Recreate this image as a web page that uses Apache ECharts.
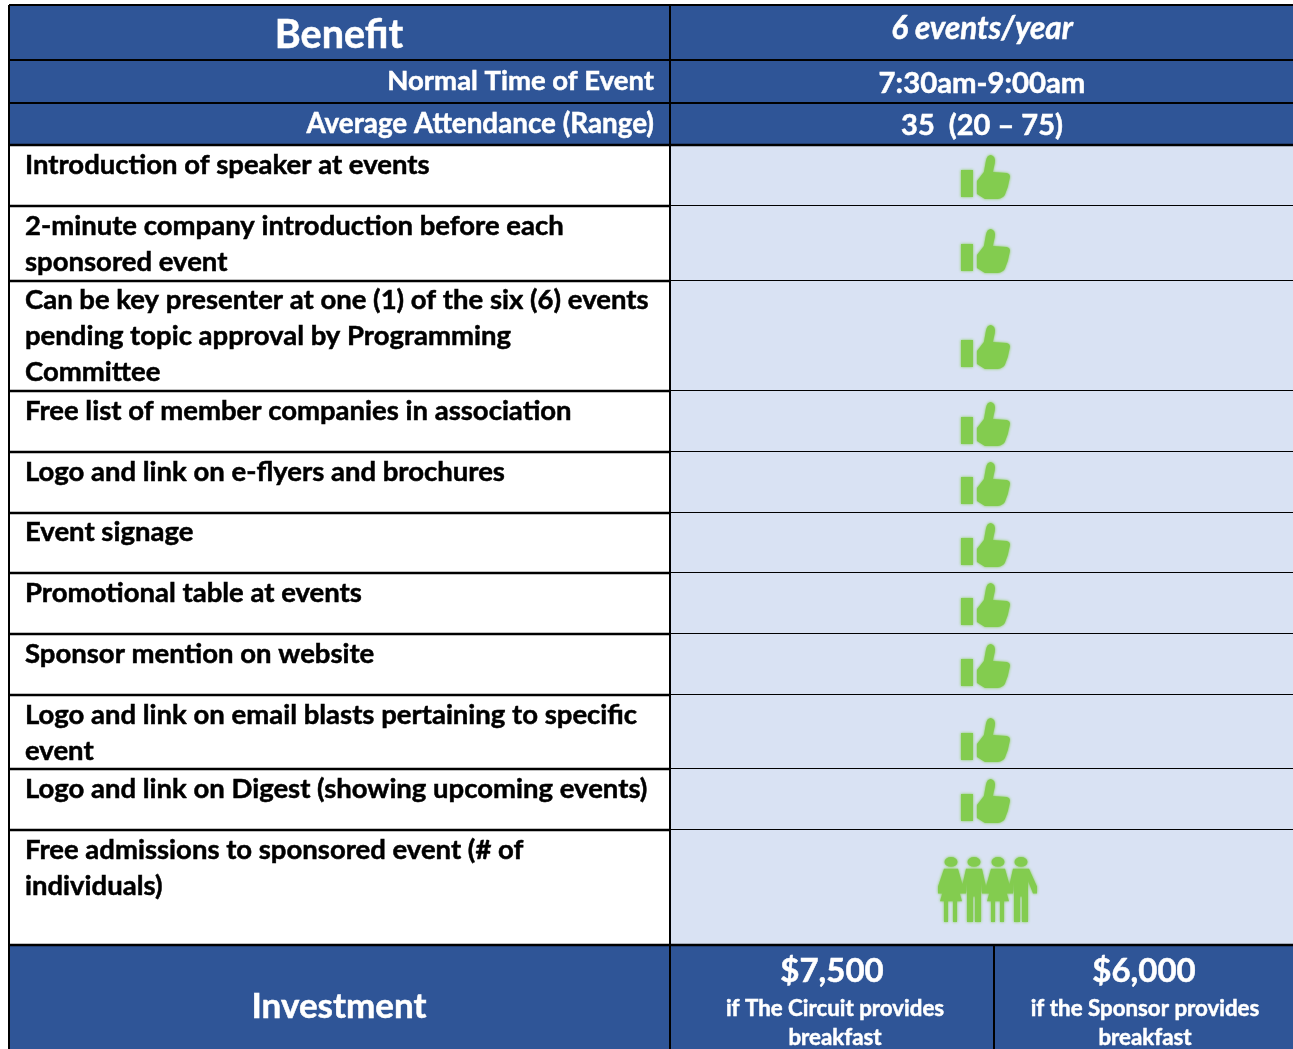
<!DOCTYPE html>
<html>
<head>
<meta charset="utf-8">
<style>
html, body { margin: 0; padding: 0; background: #fff; }
#main { width: 1293px; height: 1049px; }
</style>
<script src="https://cdn.jsdelivr.net/npm/echarts@6/dist/echarts.min.js"></script>
</head>
<body>
<div id="main"></div>
<script>
// table content
var headTitle = "Benefit";
var headFrequency = "6 events/year";
var headLabels = ["Normal Time of Event", "Average Attendance (Range)"];
var headValues = ["7:30am-9:00am", "35  (20 \u2013 75)"];
var benefits = [
	"Introduction of speaker at events",
	"2-minute company introduction before each\nsponsored event",
	"Can be key presenter at one (1) of the six (6) events\npending topic approval by Programming\nCommittee",
	"Free list of member companies in association",
	"Logo and link on e-flyers and brochures",
	"Event signage",
	"Promotional table at events",
	"Sponsor mention on website",
	"Logo and link on email blasts pertaining to specific\nevent",
	"Logo and link on Digest (showing upcoming events)",
	"Free admissions to sponsored event (# of\nindividuals)"
];
var benefitMarks = ["thumb", "thumb", "thumb", "thumb", "thumb", "thumb", "thumb", "thumb", "thumb", "thumb", "people"];
var investmentTitle = "Investment";
var investmentPrices = ["$7,500", "$6,000"];
var investmentNotes = ["if The Circuit provides\nbreakfast", "if the Sponsor provides\nbreakfast"];

// layout, in table pixels
var rowEdges = [5, 60, 103, 145, 206, 281, 391, 452, 513, 573, 634, 695, 769, 830, 945, 1049];
var benefitTops = [147, 208, 282, 393, 454, 514, 575, 636, 697, 771, 832];
var markCentres = [178, 252, 348, 425, 485, 546, 606, 667, 741, 802, 889];
var tableLeft = 9, columnEdge = 670, priceEdge = 994, tableRight = 1293;

var BLUE = "#2F5597", PALE = "#D9E2F3", GREEN = "#83CC4F", LINE = "#000";
var FONT = "Lato, Carlito, sans-serif";

var thumbPath = "M21 25L33 25L33 52L21 52ZM37 36L44 27L46 16Q47 10 51 10Q56 11 55 18L53 27L67 28Q71 29 70 33L68 42L65 50Q63 53 58 54L45 54L37 49Z";

function pts(cx, list) {
	var d = "";
	for (var i = 0; i < list.length; i++) {
		d += (i === 0 ? "M" : "L") + (cx + list[i][0]) + " " + list[i][1];
	}
	return d + "Z";
}

// one figure of the four, cx is the middle of the body
function personPath(cx, woman, reachL, reachR) {
	var d = "M" + (cx - 6.5) + " 5a6.5 5 0 1 0 13 0a6.5 5 0 1 0 -13 0Z";
	if (woman) {
		d += pts(cx, [[-7, 12], [7, 12], [reachR, 30], [reachR, 37], [reachR - 4, 37], [6, 27], [11, 45], [-11, 45], [-6, 27], [-reachL + 4, 37], [-reachL, 37], [-reachL, 30]]);
		d += pts(cx, [[-7, 45], [-3, 45], [-3, 66], [-7, 66]]);
		d += pts(cx, [[2, 45], [6, 45], [6, 66], [2, 66]]);
	} else {
		d += pts(cx, [[-8, 12], [8, 12], [reachR, 30], [reachR, 37], [reachR - 4, 37], [7, 24], [7, 66], [1, 66], [1, 40], [-1, 40], [-1, 66], [-7, 66], [-7, 24], [-reachL + 4, 37], [-reachL, 37], [-reachL, 30]]);
	}
	return d;
}
var peoplePath = personPath(13, true, 13, 12) + personPath(36, false, 12, 12) + personPath(60, true, 12, 12) + personPath(83, false, 12, 16);

function rect(api, x1, y1, x2, y2, fill) {
	var a = api.coord([x1, y1]);
	var b = api.coord([x2, y2]);
	return { type: "rect", shape: { x: a[0], y: a[1], width: b[0] - a[0], height: b[1] - a[1] }, style: { fill: fill } };
}

function hLine(api, x1, x2, y, width) {
	var a = api.coord([x1, y]);
	var b = api.coord([x2, y]);
	return { type: "line", shape: { x1: a[0], y1: a[1], x2: b[0], y2: b[1] }, style: { stroke: LINE, lineWidth: width } };
}

function vLine(api, x, y1, y2, width) {
	var a = api.coord([x, y1]);
	var b = api.coord([x, y2]);
	return { type: "line", shape: { x1: a[0], y1: a[1], x2: b[0], y2: b[1] }, style: { stroke: LINE, lineWidth: width } };
}

function label(api, text, x, y, size, fill, align, opts) {
	var p = api.coord([x, y]);
	opts = opts || {};
	return {
		type: "text",
		x: p[0],
		y: p[1],
		style: {
			text: text,
			fill: fill,
			stroke: fill,
			lineWidth: 0.5,
			align: align,
			verticalAlign: opts.top ? "top" : "middle",
			lineHeight: opts.lineHeight,
			font: (opts.italic ? "italic " : "") + "bold " + size + "px " + FONT
		}
	};
}

function mark(api, kind, cy) {
	var box = kind === "thumb" ? [961, cy - 23, 49, 44] : [938, cy - 32, 99, 65];
	var a = api.coord([box[0], box[1]]);
	return {
		type: "path",
		shape: {
			pathData: kind === "thumb" ? thumbPath : peoplePath,
			layout: "cover",
			x: a[0],
			y: a[1],
			width: box[2],
			height: box[3]
		},
		style: { fill: GREEN, shadowColor: GREEN, shadowBlur: 3 }
	};
}

function drawBackground(params, api) {
	var last = rowEdges.length - 1;
	return {
		type: "group",
		children: [
			rect(api, tableLeft, rowEdges[0], tableRight, rowEdges[3], BLUE),
			rect(api, tableLeft, rowEdges[3], columnEdge, rowEdges[last - 1], "#fff"),
			rect(api, columnEdge, rowEdges[3], tableRight, rowEdges[last - 1], PALE),
			rect(api, tableLeft, rowEdges[last - 1], tableRight, rowEdges[last], BLUE)
		]
	};
}

function drawGrid(params, api) {
	var children = [];
	var last = rowEdges.length - 1;
	for (var i = 0; i < last; i++) {
		if (i > 3 && i < last - 1) {
			// rows in the body: the rule gets thinner over the pale column
			children.push(hLine(api, tableLeft, columnEdge, rowEdges[i], 2.5));
			children.push(hLine(api, columnEdge, tableRight, rowEdges[i] - 0.5, 1.2));
		} else {
			children.push(hLine(api, tableLeft, tableRight, rowEdges[i], (i === 3 || i === last - 1) ? 2.5 : 2));
		}
	}
	children.push(vLine(api, tableLeft, rowEdges[0], rowEdges[last], 2));
	children.push(vLine(api, columnEdge, rowEdges[0], rowEdges[last], 2));
	children.push(vLine(api, priceEdge, rowEdges[last - 1], rowEdges[last], 2));
	return { type: "group", children: children };
}

function drawHeader(params, api) {
	return {
		type: "group",
		children: [
			label(api, headTitle, 339, 35, 39.5, "#fff", "center"),
			label(api, headFrequency, 982, 29, 31.5, "#fff", "center", { italic: true }),
			label(api, headLabels[0], 654, 81, 27.5, "#fff", "right"),
			label(api, headValues[0], 982, 84, 29.3, "#fff", "center"),
			label(api, headLabels[1], 654, 124, 27.8, "#fff", "right"),
			label(api, headValues[1], 982, 126, 29, "#fff", "center")
		]
	};
}

function drawBenefit(params, api) {
	var i = api.value(0);
	return {
		type: "group",
		children: [
			label(api, benefits[i], 25, benefitTops[i], 27.5, "#000", "left", { top: true, lineHeight: 36 }),
			mark(api, benefitMarks[i], markCentres[i])
		]
	};
}

function drawInvestment(params, api) {
	return {
		type: "group",
		children: [
			label(api, investmentTitle, 339, 1007, 35, "#fff", "center"),
			label(api, investmentPrices[0], 832, 971, 33, "#fff", "center"),
			label(api, investmentNotes[0], 835, 994, 22.3, "#fff", "center", { top: true, lineHeight: 29 }),
			label(api, investmentPrices[1], 1144, 971, 33, "#fff", "center"),
			label(api, investmentNotes[1], 1145, 994, 22.3, "#fff", "center", { top: true, lineHeight: 29 })
		]
	};
}

function customSeries(renderItem, data) {
	return { type: "custom", renderItem: renderItem, data: data, silent: true, clip: false, animation: false };
}

var option = {
	animation: false,
	tooltip: { show: false },
	grid: { left: 0, right: 0, top: 0, bottom: 0 },
	xAxis: { type: "value", min: 0, max: 1293, show: false },
	yAxis: { type: "value", min: 0, max: 1049, inverse: true, show: false },
	series: [
		customSeries(drawBackground, [[0]]),
		customSeries(drawBenefit, benefits.map(function (b, i) { return [i]; })),
		customSeries(drawGrid, [[0]]),
		customSeries(drawHeader, [[0]]),
		customSeries(drawInvestment, [[0]])
	]
};

var chart = echarts.init(document.getElementById("main"), null, { renderer: "canvas" });
chart.setOption(option);
</script>
</body>
</html>
